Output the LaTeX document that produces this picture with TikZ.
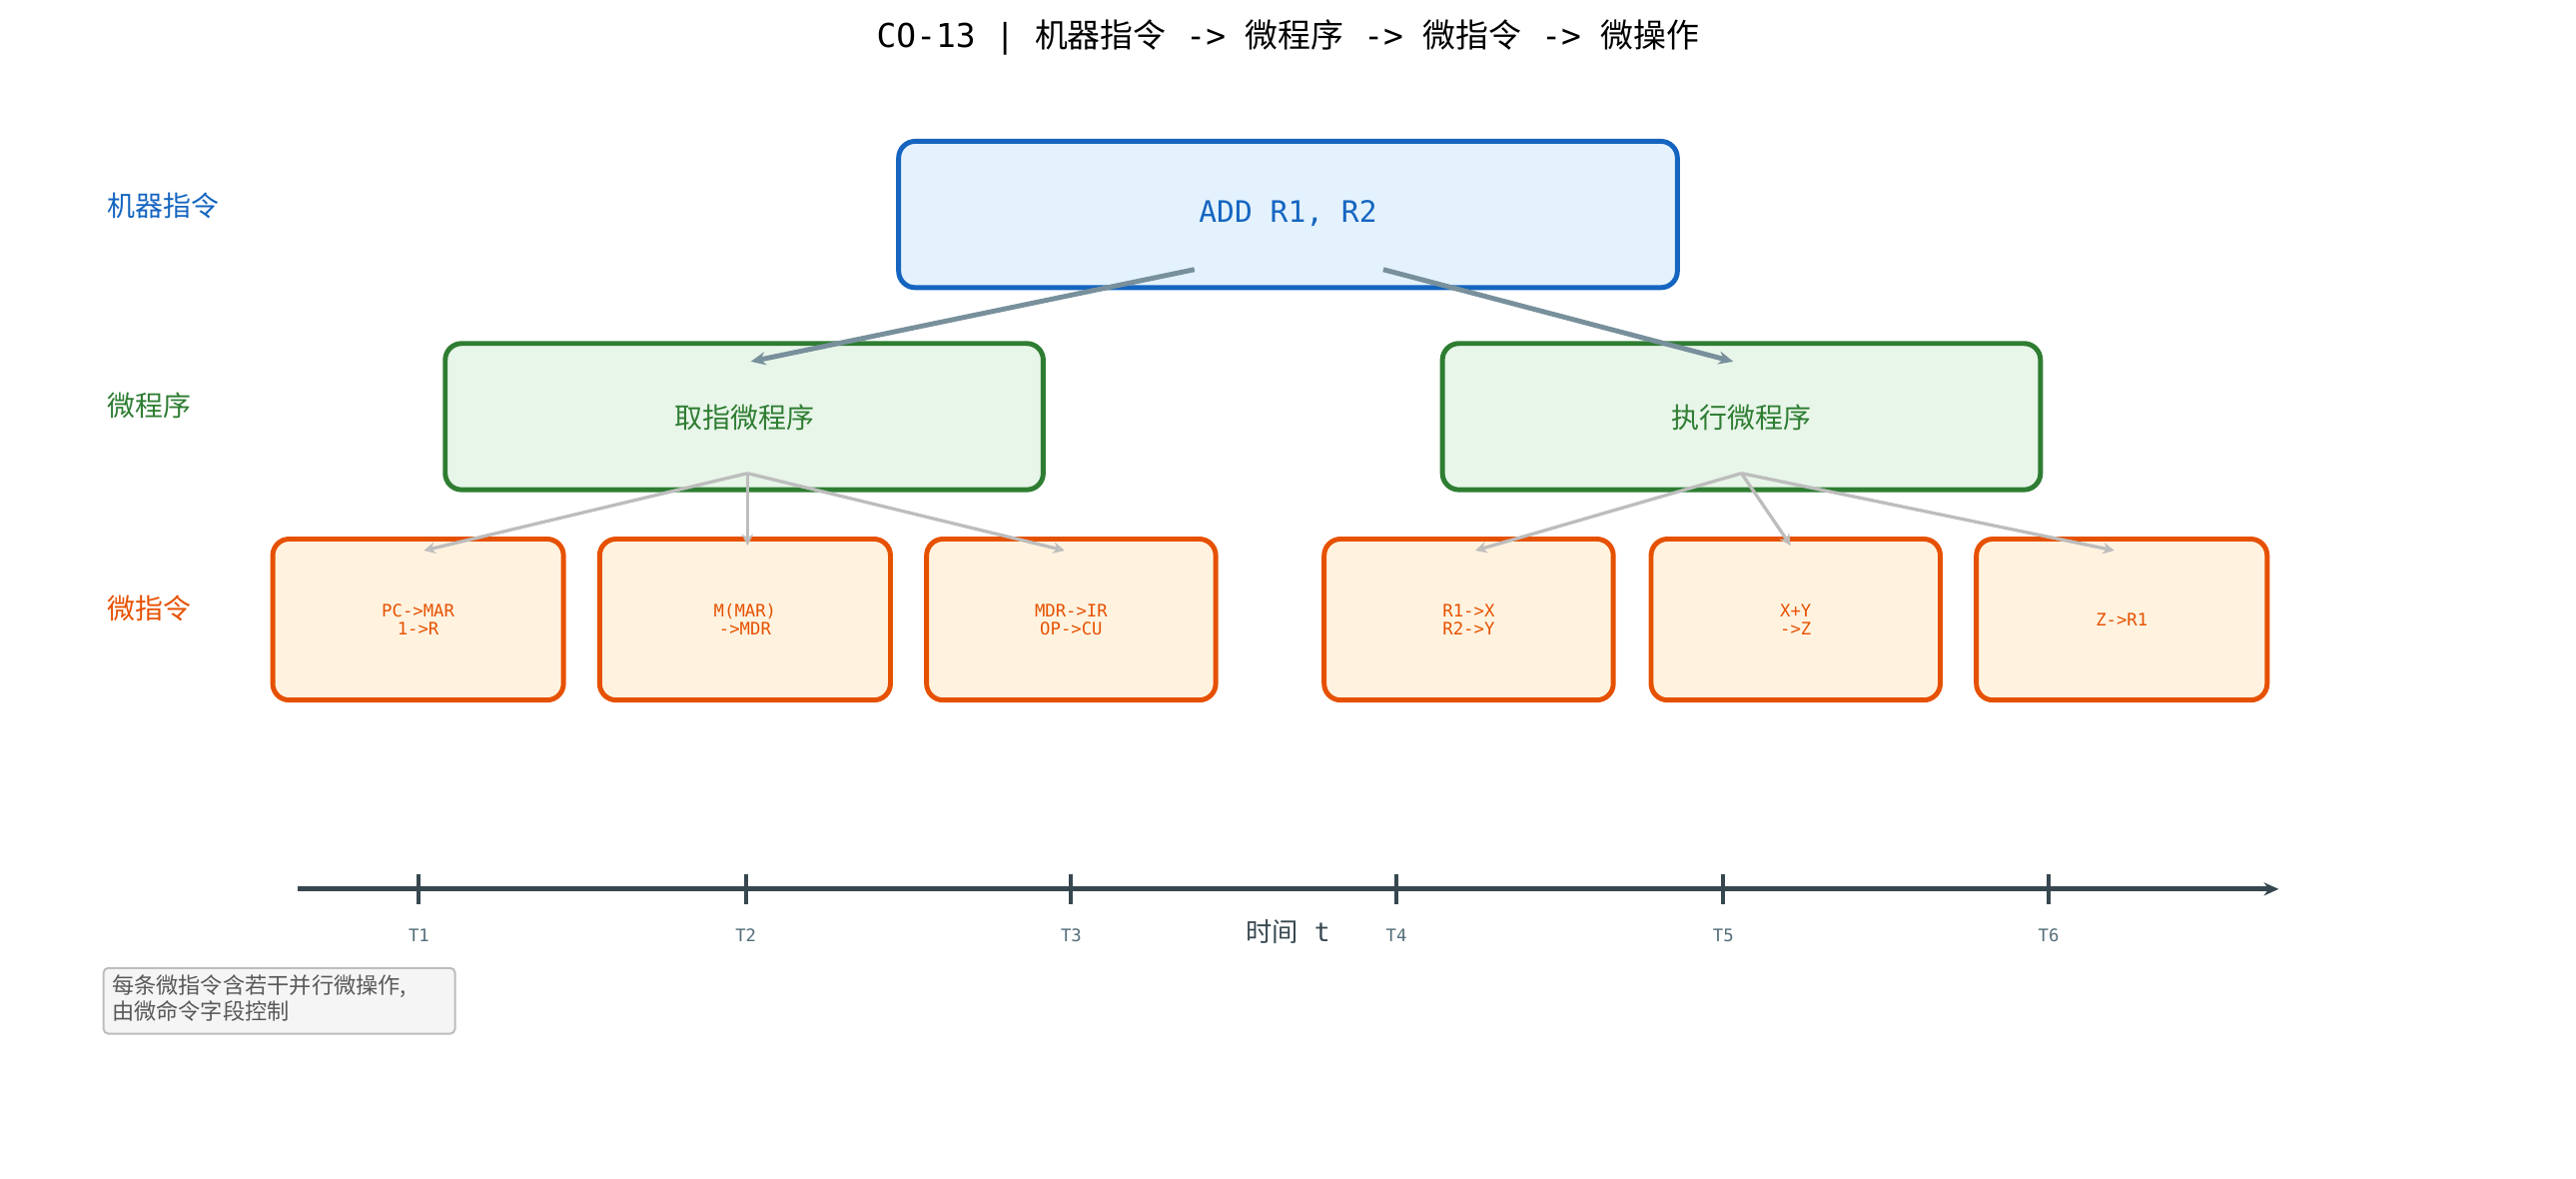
\documentclass[tikz,border=0pt]{standalone}
\usepackage{fontspec}
\setmainfont{DejaVu Sans Mono}
\newfontfamily\cjk{Noto Sans CJK SC}
\usetikzlibrary{arrows.meta}
\definecolor{insblue}{HTML}{1565C0}
\definecolor{insbluebg}{HTML}{E3F2FD}
\definecolor{prggreen}{HTML}{2E7D32}
\definecolor{prggreenbg}{HTML}{E8F5E9}
\definecolor{uorange}{HTML}{E65100}
\definecolor{uorangebg}{HTML}{FFF3E0}
\definecolor{linkgrey}{HTML}{78909C}
\definecolor{fangrey}{HTML}{BDBDBD}
\definecolor{axisdark}{HTML}{37474F}
\definecolor{ticklbl}{HTML}{546E7A}
\tikzset{
  lvl/.style={anchor=west, font=\cjk\fontsize{17}{20}\selectfont},
  box/.style={rounded corners=10pt, line width=3pt},
  mbox/.style={box, draw=uorange, fill=uorangebg},
  mtxt/.style={text=uorange, align=center, font=\fontsize{10.5}{11}\selectfont},
  uplink/.style={draw=linkgrey, line width=3pt, -{Stealth[length=9pt,width=8pt]}},
  fan/.style={draw=fangrey, line width=2pt, -{Stealth[length=7pt,width=7pt,open]}},
}
\begin{document}
\begin{tikzpicture}[x=1pt, y=-1pt]
    \path [use as bounding box] (0, 0) rectangle (1568, 717);

    \node (title) at (784, 23) {\fontsize{20}{24}\selectfont CO-13 | {\cjk 机器指令} -> {\cjk 微程序} -> {\cjk 微指令} -> {\cjk 微操作}};

    % level labels
    \node[lvl, text=insblue] (lblins) at (62, 125) {机器指令};
    \node[lvl, text=prggreen] (lblprg) at (62, 247) {微程序};
    \node[lvl, text=uorange] (lblmu) at (62, 370) {微指令};

    % boxes
    \draw[box, draw=insblue, fill=insbluebg] (547, 86) rectangle (1021, 175);
    \node[text=insblue, font=\fontsize{18}{20}\selectfont] (add) at (784, 130) {ADD R1, R2};
    \draw[box, draw=prggreen, fill=prggreenbg] (271, 209) rectangle (635, 298);
    \node[text=prggreen, font=\cjk\fontsize{17}{20}\selectfont] (fetch) at (453, 254) {取指微程序};
    \draw[box, draw=prggreen, fill=prggreenbg] (878, 209) rectangle (1242, 298);
    \node[text=prggreen, font=\cjk\fontsize{17}{20}\selectfont] (exec) at (1060, 254) {执行微程序};

    \foreach \xa/\xb in {166/343, 365/542, 564/740, 806/982, 1005/1181, 1203/1380} {
      \draw[mbox] (\xa, 328) rectangle (\xb, 426);
    }
    \node[mtxt] (mu1) at (254.5, 377) {PC->MAR\\1->R};
    \node[mtxt] (mu2) at (453.5, 377) {M(MAR)\\->MDR};
    \node[mtxt] (mu3) at (652, 377) {MDR->IR\\OP->CU};
    \node[mtxt] (mu4) at (894, 377) {R1->X\\R2->Y};
    \node[mtxt] (mu5) at (1093, 377) {X+Y\\->Z};
    \node[mtxt] (mu6) at (1291.5, 377) {Z->R1};

    % connectors
    \coordinate (addl) at (727, 164);
    \coordinate (addr) at (842, 164);
    \coordinate (fetchin) at (457, 220);
    \coordinate (execin) at (1055, 220);
    \draw[uplink] (addl) -- (fetchin);
    \draw[uplink] (addr) -- (execin);

    \coordinate (fetchout) at (455, 288);
    \coordinate (execout) at (1060, 288);
    \coordinate (in1) at (258, 335);
    \coordinate (in2) at (455, 332);
    \coordinate (in3) at (648, 335);
    \coordinate (in4) at (898, 335);
    \coordinate (in5) at (1090, 332);
    \coordinate (in6) at (1287, 335);
    \foreach \t in {in1, in2, in3} \draw[fan] (fetchout) -- (\t);
    \foreach \t in {in4, in5, in6} \draw[fan] (execout) -- (\t);

    % time axis
    \coordinate (ax0) at (181, 541);
    \coordinate (ax1) at (1387, 541);
    \draw[axisdark, line width=3pt, -{Stealth[length=9pt,width=8pt]}] (ax0) -- (ax1);
    \foreach \x [count=\i] in {255, 454, 652, 850, 1049, 1247} {
      \draw[axisdark, line width=2.5pt] (\x, 532) -- (\x, 550);
      \node[text=ticklbl, font=\fontsize{10.5}{12}\selectfont] (tick\i) at (\x, 569) {T\i};
    }
    \node[text=axisdark, font=\fontsize{16}{18}\selectfont] (taxis) at (784, 567) {{\cjk 时间} t};

    % note
    \draw[fill=black!4, draw=fangrey, line width=1.2pt, rounded corners=3pt] (63, 589) rectangle (277, 629);
    \node[anchor=north west, align=left, text=black!65, inner sep=0pt,
      font=\cjk\fontsize{13.5}{16}\selectfont] (note) at (68, 593) {每条微指令含若干并行微操作,\\由微命令字段控制};
\end{tikzpicture}
\end{document}
